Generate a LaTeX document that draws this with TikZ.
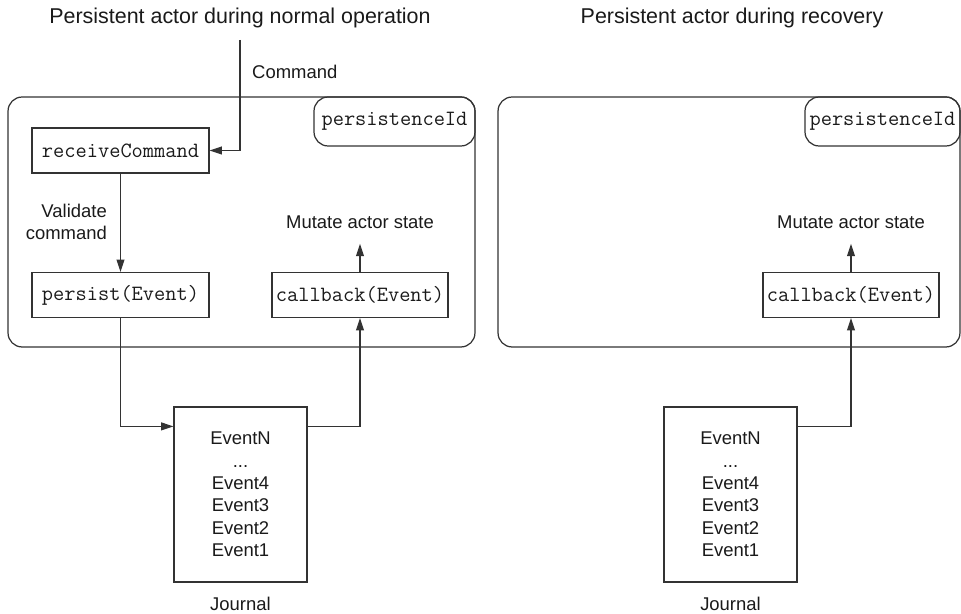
\documentclass[tikz,border=0pt]{standalone}
\usepackage{fontspec}
\setmainfont{Liberation Sans}
\usepackage{tikz}
\usetikzlibrary{arrows.meta, positioning, calc}
\usepackage{xcolor}
\definecolor{inkgray}{HTML}{333333}
\definecolor{textgray}{HTML}{1A1A1A}

\begin{document}
\begin{tikzpicture}[x=0.02cm, y=-0.02cm, font=\fontsize{10.5}{12.8}\selectfont, text=textgray,
    codebox/.style={draw=inkgray, line width=0.7pt, minimum height=0.9cm, inner sep=2pt, font=\ttfamily\fontsize{12.4}{14}\selectfont},
    idbox/.style={codebox, rounded corners=8pt, minimum height=0.98cm},
    actorbox/.style={draw=inkgray, line width=0.7pt, rounded corners=8pt, minimum width=#1, minimum height=5cm},
    journalbox/.style={draw=inkgray, line width=0.7pt, minimum width=2.66cm, minimum height=3.5cm, align=center},
    titletext/.style={font=\fontsize{12.2}{14}\selectfont},
    flow/.style={draw=inkgray, line width=0.7pt, -{Triangle[length=7pt, width=4.5pt]}}]
                \useasboundingbox (0,0) rectangle (961,614);
                \node[titletext] (titleL) at (240,18) {Persistent actor during normal operation};
                \node[titletext] (titleR) at (732,18) {Persistent actor during recovery};

                \node[actorbox=9.34cm] (actorL) at (241.5,222) {};
                \node[actorbox=9.24cm] (actorR) at (729,222) {};
                \node[idbox, minimum width=3.22cm] (idL) at (394.5,121.5) {persistenceId};
                \node[idbox, minimum width=3.1cm] (idR) at (882.5,121.5) {persistenceId};

                \node[codebox, minimum width=3.54cm] (recv) at (120.5,150.5) {receiveCommand};
                \node[codebox, minimum width=3.54cm] (persistE) at (120.5,295) {persist(Event)};
                \node[codebox, minimum width=3.52cm] (cbL) at (360,295) {callback(Event)};
                \node[codebox, minimum width=3.52cm] (cbR) at (851,295) {callback(Event)};

                \node[journalbox] (jrnL) at (240.5,494.5) {EventN\\...\\Event4\\Event3\\Event2\\Event1};
                \node[journalbox] (jrnR) at (730.5,494.5) {EventN\\...\\Event4\\Event3\\Event2\\Event1};
                \node[below=5pt of jrnL] (jrnLabelL) {Journal};
                \node[below=5pt of jrnR] (jrnLabelR) {Journal};

                \coordinate (cmdIn) at (240,40);
                \draw[flow] (cmdIn) |- (recv.east);
                \node[anchor=west] (cmdLabel) at (246,72) {Command};

                \draw[flow] (recv) -- (persistE);
                \node[anchor=east, align=right] (validate) at (113,222) {Validate\\command};

                \draw[flow] (cbL.north) -- ++(0,-28) coordinate (mutTipL);
                \node[above=5pt of mutTipL] (mutL) {Mutate actor state};
                \draw[flow] (cbR.north) -- ++(0,-28) coordinate (mutTipR);
                \node[above=5pt of mutTipR] (mutR) {Mutate actor state};

                \draw[flow] (persistE.south) |- ([yshift=-0.4cm]jrnL.north west);
                \draw[flow] ([yshift=-0.4cm]jrnL.north east) -| (cbL.south);
                \draw[flow] ([yshift=-0.4cm]jrnR.north east) -| (cbR.south);
            \end{tikzpicture}
\end{document}
